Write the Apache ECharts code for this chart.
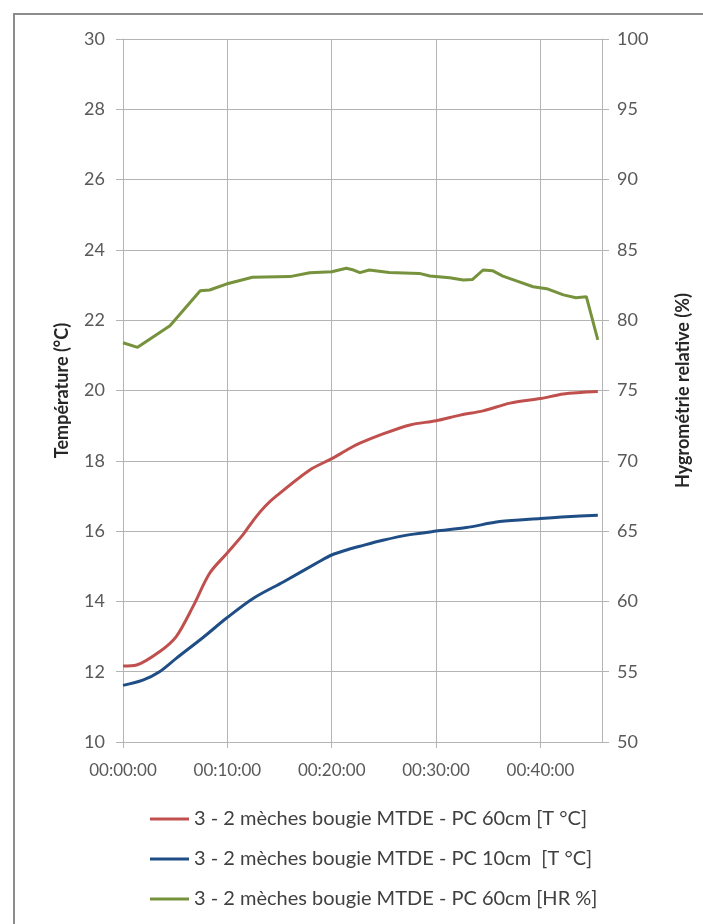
<!DOCTYPE html>
<html>
<head>
<meta charset="utf-8">
<script src="https://cdn.jsdelivr.net/npm/echarts@6/dist/echarts.min.js"></script>
<style>
  html, body { margin: 0; padding: 0; background: #ffffff; }
  #chart { width: 703px; height: 924px; }
</style>
</head>
<body>
<div id="chart"></div>
<script>
// Elapsed time in minutes for each reading
const timeT60 = [0, 1.3, 3.5, 5.1, 6.7, 8.3, 9.9, 11.5, 12.6, 13.6, 14.7, 17.9, 20.0, 21.7, 22.7, 24.6, 27.5, 30.0, 32.3, 34.5, 37.1, 40.0, 42.2, 45.5];
// Temperature at 60 cm (°C)
const tempPC60 = [12.16, 12.19, 12.57, 13.0, 13.85, 14.8, 15.35, 15.9, 16.35, 16.7, 17.0, 17.74, 18.06, 18.35, 18.5, 18.73, 19.02, 19.14, 19.3, 19.42, 19.64, 19.77, 19.9, 19.97];

const timeT10 = [0, 1.9, 3.5, 5.1, 7.7, 9.9, 12.5, 15.4, 18.9, 20.0, 21.5, 22.7, 24.9, 27.5, 30.0, 32.9, 36.1, 40.0, 42.5, 45.5];
// Temperature at 10 cm (°C)
const tempPC10 = [11.61, 11.76, 12.0, 12.38, 12.98, 13.52, 14.09, 14.56, 15.15, 15.32, 15.47, 15.57, 15.74, 15.9, 16.0, 16.1, 16.27, 16.36, 16.41, 16.45];

const timeHR60 = [0, 1.4, 4.5, 7.4, 8.3, 9.9, 12.4, 16.0, 17.9, 20.0, 21.4, 22.1, 22.7, 23.6, 25.5, 28.4, 29.4, 31.3, 32.6, 33.5, 34.5, 35.4, 36.4, 37.7, 39.3, 40.6, 42.2, 43.4, 44.4, 45.5];
// Relative humidity at 60 cm (%)
const hrPC60 = [78.4, 78.07, 79.6, 82.1, 82.15, 82.57, 83.05, 83.1, 83.38, 83.45, 83.7, 83.57, 83.38, 83.57, 83.4, 83.33, 83.14, 83.02, 82.86, 82.9, 83.57, 83.52, 83.14, 82.8, 82.38, 82.24, 81.8, 81.6, 81.67, 78.6];

const seriesNames = [
  '3 - 2 mèches bougie MTDE - PC 60cm [T °C]',
  '3 - 2 mèches bougie MTDE - PC 10cm  [T °C]',
  '3 - 2 mèches bougie MTDE - PC 60cm [HR %]'
];

const pair = (xs, ys) => xs.map((x, i) => [x, ys[i]]);
const pad2 = n => String(n).padStart(2, '0');

const FONT = 'Lato';
const labelColor = '#595959';
const gridColor = '#b4b4b4';

const chart = echarts.init(document.getElementById('chart'));
chart.setOption({
  animation: false,
  backgroundColor: '#ffffff',
  graphic: [{
    type: 'rect',
    shape: { x: 14, y: 14, width: 700, height: 920 },
    style: { fill: 'none', stroke: '#8c8c8c', lineWidth: 2 },
    silent: true
  }],
  grid: { left: 123, right: 101, top: 39, bottom: 182 },
  legend: {
    orient: 'vertical',
    left: 145,
    top: 802,
    icon: 'rect',
    itemWidth: 39,
    itemHeight: 3,
    itemGap: 16,
    textStyle: { fontFamily: FONT, fontSize: 20, color: '#404040', lineHeight: 24 },
    data: seriesNames
  },
  xAxis: {
    type: 'value',
    min: 0,
    max: 45.9,
    interval: 10,
    axisLine: { show: true, lineStyle: { color: gridColor } },
    axisTick: { show: true, length: 6, lineStyle: { color: gridColor } },
    splitLine: { show: true, lineStyle: { color: gridColor, width: 1 } },
    axisLabel: {
      showMaxLabel: false,
      margin: 20,
      fontFamily: FONT, fontSize: 17, color: labelColor,
      formatter: v => '00:' + pad2(v) + ':00'
    }
  },
  yAxis: [{
    type: 'value',
    min: 10, max: 30, interval: 2,
    name: 'Température (°C)',
    nameLocation: 'middle',
    nameGap: 52,
    nameTextStyle: { fontFamily: FONT, fontSize: 18, fontWeight: 'bold', color: '#262626' },
    axisLine: { show: true, lineStyle: { color: gridColor } },
    axisTick: { show: true, length: 7, lineStyle: { color: gridColor } },
    splitLine: { show: true, lineStyle: { color: gridColor, width: 1 } },
    axisLabel: { margin: 18, fontFamily: FONT, fontSize: 18, color: labelColor }
  }, {
    type: 'value',
    position: 'right',
    min: 50, max: 100, interval: 5,
    name: 'Hygrométrie relative (%)',
    nameLocation: 'middle',
    nameGap: 72,
    nameTextStyle: { fontFamily: FONT, fontSize: 18, fontWeight: 'bold', color: '#262626' },
    axisLine: { show: true, lineStyle: { color: gridColor } },
    axisTick: { show: true, length: 7, lineStyle: { color: gridColor } },
    splitLine: { show: false },
    axisLabel: { margin: 15, fontFamily: FONT, fontSize: 18, color: labelColor }
  }],
  series: [{
    name: seriesNames[0],
    type: 'line',
    yAxisIndex: 0,
    data: pair(timeT60, tempPC60),
    smooth: 0.3,
    showSymbol: false,
    symbol: 'none',
    lineStyle: { color: '#c0504d', width: 3 },
    itemStyle: { color: '#c0504d' }
  }, {
    name: seriesNames[1],
    type: 'line',
    yAxisIndex: 0,
    data: pair(timeT10, tempPC10),
    smooth: 0.3,
    showSymbol: false,
    symbol: 'none',
    lineStyle: { color: '#1f4e86', width: 3 },
    itemStyle: { color: '#1f4e86' }
  }, {
    name: seriesNames[2],
    type: 'line',
    yAxisIndex: 1,
    data: pair(timeHR60, hrPC60),
    showSymbol: false,
    symbol: 'none',
    lineStyle: { color: '#76923c', width: 3 },
    itemStyle: { color: '#76923c' }
  }]
});
</script>
</body>
</html>
